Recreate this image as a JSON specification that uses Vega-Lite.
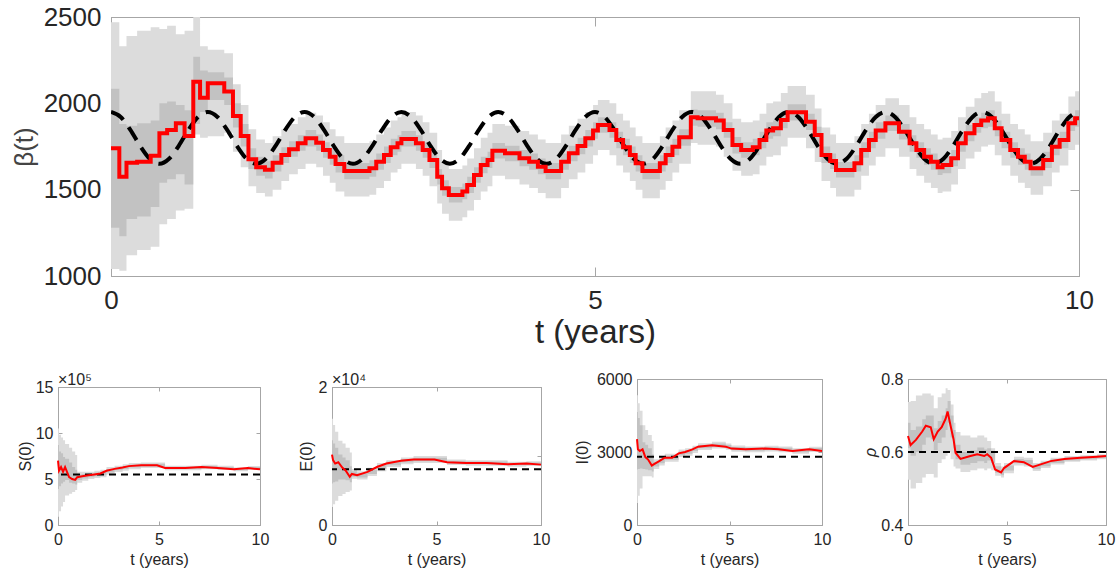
{
"$schema": "https://vega.github.io/schema/vega-lite/v6.json",
"background": "white",
"padding": {"left": 10, "top": 3, "right": 5, "bottom": 5},
"spacing": 20,
"config": {
  "font": "Liberation Sans",
  "view": {"stroke": "#a6a6a6", "strokeWidth": 1},
  "axis": {"grid": false, "domainColor": "#a6a6a6", "tickColor": "#a6a6a6", "labelColor": "#262626", "titleColor": "#262626", "titleFontWeight": "normal", "labelFlush": false, "labelOverlap": false, "labelFont": "Liberation Sans", "titleFont": "Liberation Sans"}
},
"datasets": {
"beta": [
{"t":0.0,"v":1740,"lo95":1040,"hi95":2470,"lo50":1280,"hi50":2085},
{"t":0.086,"v":1575,"lo95":1030,"hi95":2330,"lo50":1230,"hi50":1880},
{"t":0.16,"v":1656,"lo95":1120,"hi95":2390,"lo50":1330,"hi50":1870},
{"t":0.27,"v":1662,"lo95":1150,"hi95":2420,"lo50":1345,"hi50":1885},
{"t":0.41,"v":1697,"lo95":1170,"hi95":2440,"lo50":1400,"hi50":1900},
{"t":0.50,"v":1827,"lo95":1300,"hi95":2430,"lo50":1540,"hi50":2000},
{"t":0.58,"v":1846,"lo95":1330,"hi95":2450,"lo50":1560,"hi50":2010},
{"t":0.67,"v":1885,"lo95":1380,"hi95":2400,"lo50":1590,"hi50":1990},
{"t":0.76,"v":1811,"lo95":1390,"hi95":2420,"lo50":1530,"hi50":1960},
{"t":0.85,"v":2125,"lo95":1820,"hi95":2500,"lo50":1880,"hi50":2270},
{"t":0.92,"v":2033,"lo95":1800,"hi95":2330,"lo50":1950,"hi50":2190},
{"t":1.00,"v":2116,"lo95":1810,"hi95":2310,"lo50":2020,"hi50":2180},
{"t":1.17,"v":2068,"lo95":1830,"hi95":2290,"lo50":1990,"hi50":2150},
{"t":1.26,"v":1927,"lo95":1720,"hi95":2110,"lo50":1860,"hi50":2000},
{"t":1.34,"v":1811,"lo95":1630,"hi95":1990,"lo50":1750,"hi50":1880},
{"t":1.42,"v":1676,"lo95":1520,"hi95":1850,"lo50":1620,"hi50":1740},
{"t":1.50,"v":1630,"lo95":1480,"hi95":1790,"lo50":1580,"hi50":1690},
{"t":1.59,"v":1616,"lo95":1460,"hi95":1770,"lo50":1565,"hi50":1665},
{"t":1.67,"v":1656,"lo95":1500,"hi95":1810,"lo50":1605,"hi50":1700},
{"t":1.76,"v":1701,"lo95":1550,"hi95":1850,"lo50":1655,"hi50":1745},
{"t":1.84,"v":1734,"lo95":1590,"hi95":1880,"lo50":1690,"hi50":1780},
{"t":1.93,"v":1769,"lo95":1620,"hi95":1920,"lo50":1725,"hi50":1815},
{"t":2.01,"v":1798,"lo95":1650,"hi95":1945,"lo50":1750,"hi50":1845},
{"t":2.12,"v":1772,"lo95":1630,"hi95":1930,"lo50":1725,"hi50":1820},
{"t":2.19,"v":1730,"lo95":1580,"hi95":1890,"lo50":1685,"hi50":1775},
{"t":2.26,"v":1691,"lo95":1540,"hi95":1850,"lo50":1645,"hi50":1740},
{"t":2.32,"v":1649,"lo95":1490,"hi95":1810,"lo50":1600,"hi50":1700},
{"t":2.41,"v":1608,"lo95":1460,"hi95":1770,"lo50":1560,"hi50":1655},
{"t":2.67,"v":1624,"lo95":1470,"hi95":1780,"lo50":1575,"hi50":1670},
{"t":2.74,"v":1662,"lo95":1510,"hi95":1820,"lo50":1615,"hi50":1710},
{"t":2.82,"v":1701,"lo95":1550,"hi95":1860,"lo50":1655,"hi50":1750},
{"t":2.89,"v":1746,"lo95":1600,"hi95":1900,"lo50":1700,"hi50":1795},
{"t":2.96,"v":1769,"lo95":1620,"hi95":1920,"lo50":1720,"hi50":1815},
{"t":3.00,"v":1794,"lo95":1650,"hi95":1950,"lo50":1750,"hi50":1840},
{"t":3.15,"v":1769,"lo95":1620,"hi95":1930,"lo50":1725,"hi50":1815},
{"t":3.22,"v":1730,"lo95":1580,"hi95":1890,"lo50":1685,"hi50":1775},
{"t":3.29,"v":1672,"lo95":1520,"hi95":1830,"lo50":1625,"hi50":1720},
{"t":3.37,"v":1575,"lo95":1420,"hi95":1730,"lo50":1530,"hi50":1620},
{"t":3.42,"v":1508,"lo95":1360,"hi95":1660,"lo50":1465,"hi50":1555},
{"t":3.49,"v":1469,"lo95":1320,"hi95":1620,"lo50":1425,"hi50":1515},
{"t":3.63,"v":1489,"lo95":1340,"hi95":1640,"lo50":1445,"hi50":1535},
{"t":3.68,"v":1527,"lo95":1380,"hi95":1680,"lo50":1480,"hi50":1575},
{"t":3.75,"v":1585,"lo95":1440,"hi95":1740,"lo50":1540,"hi50":1630},
{"t":3.82,"v":1643,"lo95":1490,"hi95":1800,"lo50":1595,"hi50":1690},
{"t":3.89,"v":1672,"lo95":1520,"hi95":1830,"lo50":1625,"hi50":1720},
{"t":3.94,"v":1726,"lo95":1580,"hi95":1880,"lo50":1680,"hi50":1770},
{"t":4.07,"v":1711,"lo95":1560,"hi95":1870,"lo50":1665,"hi50":1755},
{"t":4.22,"v":1682,"lo95":1530,"hi95":1840,"lo50":1635,"hi50":1730},
{"t":4.32,"v":1662,"lo95":1510,"hi95":1820,"lo50":1615,"hi50":1710},
{"t":4.41,"v":1633,"lo95":1480,"hi95":1790,"lo50":1590,"hi50":1680},
{"t":4.49,"v":1608,"lo95":1450,"hi95":1770,"lo50":1560,"hi50":1655},
{"t":4.65,"v":1662,"lo95":1510,"hi95":1820,"lo50":1615,"hi50":1710},
{"t":4.73,"v":1711,"lo95":1560,"hi95":1870,"lo50":1665,"hi50":1755},
{"t":4.82,"v":1753,"lo95":1600,"hi95":1910,"lo50":1705,"hi50":1800},
{"t":4.90,"v":1798,"lo95":1650,"hi95":1950,"lo50":1750,"hi50":1845},
{"t":4.98,"v":1842,"lo95":1700,"hi95":1990,"lo50":1795,"hi50":1890},
{"t":5.03,"v":1875,"lo95":1730,"hi95":2020,"lo50":1830,"hi50":1920},
{"t":5.15,"v":1846,"lo95":1700,"hi95":2000,"lo50":1800,"hi50":1890},
{"t":5.22,"v":1788,"lo95":1640,"hi95":1940,"lo50":1740,"hi50":1835},
{"t":5.29,"v":1746,"lo95":1600,"hi95":1900,"lo50":1700,"hi50":1795},
{"t":5.36,"v":1701,"lo95":1550,"hi95":1860,"lo50":1655,"hi50":1750},
{"t":5.42,"v":1653,"lo95":1500,"hi95":1810,"lo50":1605,"hi50":1700},
{"t":5.49,"v":1608,"lo95":1450,"hi95":1770,"lo50":1560,"hi50":1655},
{"t":5.67,"v":1653,"lo95":1500,"hi95":1810,"lo50":1605,"hi50":1700},
{"t":5.73,"v":1701,"lo95":1550,"hi95":1860,"lo50":1655,"hi50":1750},
{"t":5.80,"v":1749,"lo95":1600,"hi95":1900,"lo50":1700,"hi50":1795},
{"t":5.87,"v":1803,"lo95":1650,"hi95":1960,"lo50":1755,"hi50":1850},
{"t":5.99,"v":1919,"lo95":1770,"hi95":2070,"lo50":1870,"hi50":1965},
{"t":6.06,"v":1913,"lo95":1760,"hi95":2070,"lo50":1865,"hi50":1960},
{"t":6.25,"v":1900,"lo95":1750,"hi95":2050,"lo50":1850,"hi50":1945},
{"t":6.33,"v":1846,"lo95":1690,"hi95":2000,"lo50":1800,"hi50":1890},
{"t":6.42,"v":1759,"lo95":1610,"hi95":1910,"lo50":1710,"hi50":1805},
{"t":6.51,"v":1730,"lo95":1580,"hi95":1890,"lo50":1685,"hi50":1775},
{"t":6.63,"v":1746,"lo95":1590,"hi95":1900,"lo50":1700,"hi50":1795},
{"t":6.70,"v":1788,"lo95":1640,"hi95":1940,"lo50":1740,"hi50":1835},
{"t":6.77,"v":1842,"lo95":1690,"hi95":2000,"lo50":1795,"hi50":1890},
{"t":6.84,"v":1856,"lo95":1700,"hi95":2010,"lo50":1810,"hi50":1900},
{"t":6.92,"v":1904,"lo95":1750,"hi95":2060,"lo50":1855,"hi50":1950},
{"t":6.99,"v":1948,"lo95":1800,"hi95":2100,"lo50":1900,"hi50":1995},
{"t":7.18,"v":1894,"lo95":1740,"hi95":2050,"lo50":1845,"hi50":1940},
{"t":7.27,"v":1817,"lo95":1660,"hi95":1970,"lo50":1770,"hi50":1865},
{"t":7.34,"v":1701,"lo95":1550,"hi95":1860,"lo50":1655,"hi50":1750},
{"t":7.43,"v":1666,"lo95":1510,"hi95":1820,"lo50":1620,"hi50":1710},
{"t":7.49,"v":1614,"lo95":1460,"hi95":1770,"lo50":1570,"hi50":1660},
{"t":7.68,"v":1653,"lo95":1500,"hi95":1810,"lo50":1605,"hi50":1700},
{"t":7.75,"v":1730,"lo95":1580,"hi95":1880,"lo50":1685,"hi50":1775},
{"t":7.83,"v":1788,"lo95":1640,"hi95":1940,"lo50":1740,"hi50":1835},
{"t":7.90,"v":1842,"lo95":1690,"hi95":1990,"lo50":1795,"hi50":1890},
{"t":8.00,"v":1885,"lo95":1740,"hi95":2030,"lo50":1840,"hi50":1930},
{"t":8.14,"v":1836,"lo95":1690,"hi95":1990,"lo50":1790,"hi50":1880},
{"t":8.25,"v":1769,"lo95":1620,"hi95":1920,"lo50":1720,"hi50":1815},
{"t":8.32,"v":1730,"lo95":1580,"hi95":1880,"lo50":1685,"hi50":1775},
{"t":8.40,"v":1691,"lo95":1540,"hi95":1850,"lo50":1645,"hi50":1740},
{"t":8.47,"v":1662,"lo95":1510,"hi95":1820,"lo50":1615,"hi50":1710},
{"t":8.54,"v":1630,"lo95":1480,"hi95":1790,"lo50":1585,"hi50":1675},
{"t":8.59,"v":1643,"lo95":1490,"hi95":1800,"lo50":1595,"hi50":1690},
{"t":8.68,"v":1682,"lo95":1530,"hi95":1840,"lo50":1635,"hi50":1730},
{"t":8.75,"v":1769,"lo95":1620,"hi95":1920,"lo50":1720,"hi50":1815},
{"t":8.83,"v":1827,"lo95":1680,"hi95":1980,"lo50":1780,"hi50":1875},
{"t":8.92,"v":1875,"lo95":1720,"hi95":2030,"lo50":1830,"hi50":1920},
{"t":8.99,"v":1900,"lo95":1750,"hi95":2060,"lo50":1855,"hi50":1945},
{"t":9.06,"v":1913,"lo95":1760,"hi95":2070,"lo50":1865,"hi50":1960},
{"t":9.13,"v":1856,"lo95":1700,"hi95":2010,"lo50":1810,"hi50":1900},
{"t":9.20,"v":1788,"lo95":1640,"hi95":1940,"lo50":1740,"hi50":1835},
{"t":9.29,"v":1730,"lo95":1580,"hi95":1880,"lo50":1685,"hi50":1775},
{"t":9.37,"v":1691,"lo95":1540,"hi95":1850,"lo50":1645,"hi50":1740},
{"t":9.44,"v":1662,"lo95":1510,"hi95":1820,"lo50":1615,"hi50":1710},
{"t":9.50,"v":1624,"lo95":1470,"hi95":1780,"lo50":1580,"hi50":1670},
{"t":9.63,"v":1672,"lo95":1520,"hi95":1830,"lo50":1625,"hi50":1720},
{"t":9.72,"v":1749,"lo95":1600,"hi95":1900,"lo50":1700,"hi50":1795},
{"t":9.80,"v":1788,"lo95":1640,"hi95":1940,"lo50":1740,"hi50":1835},
{"t":9.89,"v":1885,"lo95":1730,"hi95":2040,"lo50":1840,"hi50":1930},
{"t":9.96,"v":1913,"lo95":1760,"hi95":2070,"lo50":1865,"hi50":1960},
{"t":10.0,"v":1913,"lo95":1760,"hi95":2070,"lo50":1865,"hi50":1960}
],
"truth": [
{"t":0.0,"b":1950},{"t":0.1,"b":1921},{"t":0.2,"b":1846},{"t":0.3,"b":1754},{"t":0.4,"b":1679},{"t":0.5,"b":1650},{"t":0.6,"b":1679},{"t":0.7,"b":1754},{"t":0.8,"b":1846},{"t":0.9,"b":1921},
{"t":1.0,"b":1950},{"t":1.1,"b":1921},{"t":1.2,"b":1846},{"t":1.3,"b":1754},{"t":1.4,"b":1679},{"t":1.5,"b":1650},{"t":1.6,"b":1679},{"t":1.7,"b":1754},{"t":1.8,"b":1846},{"t":1.9,"b":1921},
{"t":2.0,"b":1950},{"t":2.1,"b":1921},{"t":2.2,"b":1846},{"t":2.3,"b":1754},{"t":2.4,"b":1679},{"t":2.5,"b":1650},{"t":2.6,"b":1679},{"t":2.7,"b":1754},{"t":2.8,"b":1846},{"t":2.9,"b":1921},
{"t":3.0,"b":1950},{"t":3.1,"b":1921},{"t":3.2,"b":1846},{"t":3.3,"b":1754},{"t":3.4,"b":1679},{"t":3.5,"b":1650},{"t":3.6,"b":1679},{"t":3.7,"b":1754},{"t":3.8,"b":1846},{"t":3.9,"b":1921},
{"t":4.0,"b":1950},{"t":4.1,"b":1921},{"t":4.2,"b":1846},{"t":4.3,"b":1754},{"t":4.4,"b":1679},{"t":4.5,"b":1650},{"t":4.6,"b":1679},{"t":4.7,"b":1754},{"t":4.8,"b":1846},{"t":4.9,"b":1921},
{"t":5.0,"b":1950},{"t":5.1,"b":1921},{"t":5.2,"b":1846},{"t":5.3,"b":1754},{"t":5.4,"b":1679},{"t":5.5,"b":1650},{"t":5.6,"b":1679},{"t":5.7,"b":1754},{"t":5.8,"b":1846},{"t":5.9,"b":1921},
{"t":6.0,"b":1950},{"t":6.1,"b":1921},{"t":6.2,"b":1846},{"t":6.3,"b":1754},{"t":6.4,"b":1679},{"t":6.5,"b":1650},{"t":6.6,"b":1679},{"t":6.7,"b":1754},{"t":6.8,"b":1846},{"t":6.9,"b":1921},
{"t":7.0,"b":1950},{"t":7.1,"b":1921},{"t":7.2,"b":1846},{"t":7.3,"b":1754},{"t":7.4,"b":1679},{"t":7.5,"b":1650},{"t":7.6,"b":1679},{"t":7.7,"b":1754},{"t":7.8,"b":1846},{"t":7.9,"b":1921},
{"t":8.0,"b":1950},{"t":8.1,"b":1921},{"t":8.2,"b":1846},{"t":8.3,"b":1754},{"t":8.4,"b":1679},{"t":8.5,"b":1650},{"t":8.6,"b":1679},{"t":8.7,"b":1754},{"t":8.8,"b":1846},{"t":8.9,"b":1921},
{"t":9.0,"b":1950},{"t":9.1,"b":1921},{"t":9.2,"b":1846},{"t":9.3,"b":1754},{"t":9.4,"b":1679},{"t":9.5,"b":1650},{"t":9.6,"b":1679},{"t":9.7,"b":1754},{"t":9.8,"b":1846},{"t":9.9,"b":1921},
{"t":10.0,"b":1950}
],
"S": [
{"t":0.0,"v":7.0,"lo95":0.9,"hi95":10.5,"lo50":3.9,"hi50":8.7},
{"t":0.05,"v":5.9,"lo95":1.5,"hi95":9.8,"lo50":4.2,"hi50":8.0},
{"t":0.15,"v":6.3,"lo95":2.0,"hi95":9.5,"lo50":4.5,"hi50":7.8},
{"t":0.25,"v":5.8,"lo95":2.5,"hi95":9.2,"lo50":4.7,"hi50":7.4},
{"t":0.35,"v":6.3,"lo95":3.2,"hi95":8.8,"lo50":4.9,"hi50":7.2},
{"t":0.55,"v":5.2,"lo95":3.4,"hi95":8.4,"lo50":4.6,"hi50":6.8},
{"t":0.70,"v":5.0,"lo95":3.6,"hi95":8.0,"lo50":4.5,"hi50":6.3},
{"t":0.85,"v":4.9,"lo95":3.8,"hi95":7.6,"lo50":4.4,"hi50":6.0},
{"t":0.95,"v":5.2,"lo95":4.6,"hi95":5.8,"lo50":4.9,"hi50":5.5},
{"t":1.2,"v":5.3,"lo95":4.8,"hi95":5.8,"lo50":5.05,"hi50":5.55},
{"t":1.5,"v":5.4,"lo95":5.0,"hi95":5.8,"lo50":5.2,"hi50":5.6},
{"t":1.8,"v":5.5,"lo95":5.1,"hi95":5.9,"lo50":5.3,"hi50":5.7},
{"t":2.1,"v":5.6,"lo95":5.2,"hi95":6.0,"lo50":5.4,"hi50":5.8},
{"t":2.4,"v":5.9,"lo95":5.5,"hi95":6.3,"lo50":5.7,"hi50":6.1},
{"t":2.8,"v":6.1,"lo95":5.75,"hi95":6.45,"lo50":5.95,"hi50":6.25},
{"t":3.2,"v":6.25,"lo95":5.9,"hi95":6.6,"lo50":6.1,"hi50":6.4},
{"t":3.5,"v":6.4,"lo95":6.05,"hi95":6.75,"lo50":6.25,"hi50":6.55},
{"t":4.1,"v":6.5,"lo95":6.2,"hi95":6.8,"lo50":6.35,"hi50":6.65},
{"t":4.9,"v":6.5,"lo95":6.2,"hi95":6.8,"lo50":6.35,"hi50":6.65},
{"t":5.3,"v":6.2,"lo95":5.95,"hi95":6.45,"lo50":6.08,"hi50":6.32},
{"t":6.3,"v":6.2,"lo95":5.95,"hi95":6.45,"lo50":6.08,"hi50":6.32},
{"t":7.1,"v":6.3,"lo95":6.05,"hi95":6.55,"lo50":6.18,"hi50":6.42},
{"t":7.9,"v":6.2,"lo95":5.97,"hi95":6.43,"lo50":6.1,"hi50":6.3},
{"t":8.7,"v":6.05,"lo95":5.85,"hi95":6.25,"lo50":5.95,"hi50":6.15},
{"t":9.4,"v":6.2,"lo95":6.0,"hi95":6.4,"lo50":6.1,"hi50":6.3},
{"t":10.0,"v":6.05,"lo95":5.85,"hi95":6.25,"lo50":5.95,"hi50":6.15}
],
"E": [
{"t":0.0,"v":1.02,"lo95":0.26,"hi95":1.54,"lo50":0.6,"hi50":1.23},
{"t":0.05,"v":0.94,"lo95":0.3,"hi95":1.45,"lo50":0.62,"hi50":1.18},
{"t":0.15,"v":0.89,"lo95":0.35,"hi95":1.35,"lo50":0.63,"hi50":1.12},
{"t":0.3,"v":0.91,"lo95":0.42,"hi95":1.22,"lo50":0.66,"hi50":1.02},
{"t":0.5,"v":0.83,"lo95":0.45,"hi95":1.18,"lo50":0.66,"hi50":0.98},
{"t":0.65,"v":0.79,"lo95":0.48,"hi95":1.12,"lo50":0.65,"hi50":0.94},
{"t":0.85,"v":0.70,"lo95":0.5,"hi95":1.05,"lo50":0.62,"hi50":0.85},
{"t":0.95,"v":0.74,"lo95":0.67,"hi95":0.81,"lo50":0.70,"hi50":0.78},
{"t":1.2,"v":0.72,"lo95":0.66,"hi95":0.78,"lo50":0.69,"hi50":0.75},
{"t":1.7,"v":0.77,"lo95":0.71,"hi95":0.83,"lo50":0.74,"hi50":0.80},
{"t":2.15,"v":0.84,"lo95":0.78,"hi95":0.90,"lo50":0.81,"hi50":0.87},
{"t":2.6,"v":0.89,"lo95":0.84,"hi95":0.94,"lo50":0.865,"hi50":0.915},
{"t":3.3,"v":0.93,"lo95":0.88,"hi95":0.98,"lo50":0.905,"hi50":0.955},
{"t":3.9,"v":0.95,"lo95":0.9,"hi95":1.0,"lo50":0.925,"hi50":0.975},
{"t":4.9,"v":0.95,"lo95":0.9,"hi95":1.0,"lo50":0.925,"hi50":0.975},
{"t":5.5,"v":0.91,"lo95":0.87,"hi95":0.95,"lo50":0.89,"hi50":0.93},
{"t":6.4,"v":0.90,"lo95":0.86,"hi95":0.94,"lo50":0.88,"hi50":0.92},
{"t":7.4,"v":0.90,"lo95":0.86,"hi95":0.94,"lo50":0.88,"hi50":0.92},
{"t":8.4,"v":0.88,"lo95":0.845,"hi95":0.915,"lo50":0.865,"hi50":0.895},
{"t":9.3,"v":0.89,"lo95":0.855,"hi95":0.925,"lo50":0.873,"hi50":0.907},
{"t":10.0,"v":0.875,"lo95":0.84,"hi95":0.91,"lo50":0.86,"hi50":0.89}
],
"I": [
{"t":0.0,"v":3530,"lo95":900,"hi95":5330,"lo50":2280,"hi50":4640},
{"t":0.05,"v":3110,"lo95":1200,"hi95":5000,"lo50":2300,"hi50":4400},
{"t":0.15,"v":3040,"lo95":1500,"hi95":4700,"lo50":2320,"hi50":4100},
{"t":0.3,"v":3110,"lo95":2000,"hi95":4100,"lo50":2300,"hi50":3400},
{"t":0.45,"v":2790,"lo95":2000,"hi95":3900,"lo50":2280,"hi50":3300},
{"t":0.6,"v":2690,"lo95":2000,"hi95":3700,"lo50":2250,"hi50":3150},
{"t":0.8,"v":2440,"lo95":1950,"hi95":3450,"lo50":2200,"hi50":2900},
{"t":0.9,"v":2490,"lo95":2300,"hi95":2700,"lo50":2400,"hi50":2600},
{"t":1.2,"v":2625,"lo95":2450,"hi95":2800,"lo50":2540,"hi50":2710},
{"t":1.5,"v":2765,"lo95":2600,"hi95":2930,"lo50":2680,"hi50":2850},
{"t":1.9,"v":2765,"lo95":2600,"hi95":2930,"lo50":2680,"hi50":2850},
{"t":2.25,"v":2945,"lo95":2790,"hi95":3100,"lo50":2870,"hi50":3020},
{"t":2.6,"v":3000,"lo95":2850,"hi95":3150,"lo50":2930,"hi50":3070},
{"t":3.0,"v":3110,"lo95":2960,"hi95":3260,"lo50":3040,"hi50":3180},
{"t":3.3,"v":3220,"lo95":3080,"hi95":3360,"lo50":3150,"hi50":3290},
{"t":4.05,"v":3280,"lo95":3140,"hi95":3420,"lo50":3210,"hi50":3350},
{"t":4.8,"v":3220,"lo95":3090,"hi95":3350,"lo50":3155,"hi50":3285},
{"t":5.1,"v":3140,"lo95":3010,"hi95":3270,"lo50":3075,"hi50":3205},
{"t":5.85,"v":3110,"lo95":2990,"hi95":3230,"lo50":3050,"hi50":3170},
{"t":6.9,"v":3140,"lo95":3020,"hi95":3260,"lo50":3080,"hi50":3200},
{"t":7.65,"v":3110,"lo95":2990,"hi95":3230,"lo50":3050,"hi50":3170},
{"t":8.4,"v":3040,"lo95":2930,"hi95":3150,"lo50":2985,"hi50":3095},
{"t":9.3,"v":3110,"lo95":3000,"hi95":3220,"lo50":3055,"hi50":3165},
{"t":10.0,"v":3040,"lo95":2930,"hi95":3150,"lo50":2985,"hi50":3095}
],
"R": [
{"t":0.0,"v":0.644,"lo95":0.524,"hi95":0.737,"lo50":0.61,"hi50":0.68},
{"t":0.13,"v":0.619,"lo95":0.50,"hi95":0.74,"lo50":0.59,"hi50":0.66},
{"t":0.4,"v":0.633,"lo95":0.515,"hi95":0.755,"lo50":0.60,"hi50":0.67},
{"t":0.72,"v":0.656,"lo95":0.53,"hi95":0.76,"lo50":0.62,"hi50":0.69},
{"t":0.9,"v":0.672,"lo95":0.54,"hi95":0.76,"lo50":0.64,"hi50":0.70},
{"t":1.15,"v":0.668,"lo95":0.54,"hi95":0.755,"lo50":0.635,"hi50":0.70},
{"t":1.3,"v":0.635,"lo95":0.53,"hi95":0.72,"lo50":0.605,"hi50":0.665},
{"t":1.5,"v":0.656,"lo95":0.57,"hi95":0.75,"lo50":0.625,"hi50":0.685},
{"t":1.7,"v":0.668,"lo95":0.58,"hi95":0.76,"lo50":0.64,"hi50":0.70},
{"t":1.9,"v":0.691,"lo95":0.59,"hi95":0.775,"lo50":0.66,"hi50":0.72},
{"t":2.0,"v":0.711,"lo95":0.60,"hi95":0.77,"lo50":0.68,"hi50":0.74},
{"t":2.15,"v":0.672,"lo95":0.58,"hi95":0.73,"lo50":0.64,"hi50":0.70},
{"t":2.3,"v":0.635,"lo95":0.56,"hi95":0.68,"lo50":0.61,"hi50":0.66},
{"t":2.4,"v":0.598,"lo95":0.555,"hi95":0.655,"lo50":0.58,"hi50":0.62},
{"t":2.65,"v":0.581,"lo95":0.545,"hi95":0.645,"lo50":0.565,"hi50":0.60},
{"t":3.15,"v":0.589,"lo95":0.55,"hi95":0.64,"lo50":0.57,"hi50":0.605},
{"t":3.5,"v":0.594,"lo95":0.555,"hi95":0.645,"lo50":0.575,"hi50":0.612},
{"t":3.85,"v":0.589,"lo95":0.55,"hi95":0.64,"lo50":0.57,"hi50":0.607},
{"t":4.0,"v":0.594,"lo95":0.555,"hi95":0.63,"lo50":0.577,"hi50":0.61},
{"t":4.2,"v":0.584,"lo95":0.55,"hi95":0.61,"lo50":0.57,"hi50":0.598},
{"t":4.4,"v":0.552,"lo95":0.535,"hi95":0.57,"lo50":0.543,"hi50":0.561},
{"t":4.7,"v":0.544,"lo95":0.53,"hi95":0.56,"lo50":0.536,"hi50":0.552},
{"t":4.85,"v":0.556,"lo95":0.542,"hi95":0.57,"lo50":0.549,"hi50":0.563},
{"t":5.35,"v":0.575,"lo95":0.563,"hi95":0.587,"lo50":0.569,"hi50":0.581},
{"t":5.85,"v":0.572,"lo95":0.56,"hi95":0.584,"lo50":0.566,"hi50":0.578},
{"t":6.3,"v":0.559,"lo95":0.548,"hi95":0.57,"lo50":0.553,"hi50":0.565},
{"t":6.7,"v":0.566,"lo95":0.556,"hi95":0.576,"lo50":0.561,"hi50":0.571},
{"t":7.2,"v":0.575,"lo95":0.566,"hi95":0.584,"lo50":0.57,"hi50":0.58},
{"t":7.9,"v":0.581,"lo95":0.573,"hi95":0.589,"lo50":0.577,"hi50":0.585},
{"t":8.7,"v":0.584,"lo95":0.577,"hi95":0.591,"lo50":0.58,"hi50":0.588},
{"t":9.55,"v":0.587,"lo95":0.58,"hi95":0.594,"lo50":0.583,"hi50":0.591},
{"t":10.0,"v":0.589,"lo95":0.582,"hi95":0.596,"lo50":0.585,"hi50":0.593}
]
},
"vconcat": [
 {
  "bounds": "flush",
  "spacing": 0,
  "hconcat": [
   {"width": 53, "height": 259, "data": {"values": []}, "mark": {"type": "rule", "opacity": 0}, "encoding": {}, "view": {"stroke": null}},
   {
   "width": 968, "height": 259,
   "data": {"name": "beta"},
   "resolve": {"axis": {"x": "independent", "y": "independent"}},
   "layer": [
    {"mark": {"type": "area", "interpolate": "step-after", "color": "#dcdcdc", "clip": true},
     "encoding": {
      "x": {"field": "t", "type": "quantitative", "scale": {"domain": [0, 10], "nice": false, "zero": false},
            "axis": {"orient": "bottom", "values": [0, 5, 10], "tickSize": -9, "labelFontSize": 26, "labelPadding": 20, "title": "t (years)", "titleFontSize": 33, "titlePadding": 3}},
      "y": {"field": "lo95", "type": "quantitative", "scale": {"domain": [1000, 2500], "nice": false, "zero": false},
            "axis": {"orient": "left", "values": [1000, 1500, 2000, 2500], "format": "d", "tickSize": -9, "labelFontSize": 26, "labelPadding": 19, "title": "β(t)", "titleFontSize": 26, "titleColor": "#444444", "titlePadding": 6}},
      "y2": {"field": "hi95"}
     }},
    {"mark": {"type": "area", "interpolate": "step-after", "color": "#c2c2c2", "clip": true},
     "encoding": {
      "x": {"field": "t", "type": "quantitative", "axis": {"orient": "top", "values": [0, 5, 10], "tickSize": -9, "labels": false, "title": null}},
      "y": {"field": "lo50", "type": "quantitative", "axis": {"orient": "right", "values": [1000, 1500, 2000, 2500], "tickSize": -9, "labels": false, "title": null}},
      "y2": {"field": "hi50"}
     }},
    {"data": {"name": "truth"},
     "mark": {"type": "line", "interpolate": "monotone", "color": "#000000", "strokeWidth": 4, "strokeDash": [15, 9], "clip": true},
     "encoding": {
      "x": {"field": "t", "type": "quantitative", "axis": null},
      "y": {"field": "b", "type": "quantitative", "axis": null}
     }},
    {"mark": {"type": "line", "interpolate": "step-after", "color": "#ff0000", "strokeWidth": 4, "clip": true},
     "encoding": {
      "x": {"field": "t", "type": "quantitative", "axis": null},
      "y": {"field": "v", "type": "quantitative", "axis": null}
     }}
   ]
   }
  ]
 },
 {
  "spacing": 22,
  "hconcat": [
   {
    "bounds": "flush",
    "spacing": 0,
    "vconcat": [
     {"width": 202, "height": 8, "data": {"values": []}, "mark": {"type": "rule", "opacity": 0}, "encoding": {}, "view": {"stroke": null}},
     {
     "spacing": 27,
     "hconcat": [
      {
       "width": 202, "height": 138,
       "title": {"text": "×10⁵", "anchor": "start", "frame": "group", "fontSize": 16, "fontWeight": "normal", "color": "#262626", "offset": -9},
       "data": {"name": "S"},
       "resolve": {"axis": {"x": "independent", "y": "independent"}},
       "layer": [
        {"mark": {"type": "area", "interpolate": "step-after", "color": "#dcdcdc"},
         "encoding": {
          "x": {"field": "t", "type": "quantitative", "scale": {"domain": [0, 10], "nice": false}, "axis": {"orient": "bottom", "values": [0, 5, 10], "tickSize": -4, "labelFontSize": 16, "labelPadding": 10, "title": "t (years)", "titleFontSize": 16, "titlePadding": 4}},
          "y": {"field": "lo95", "type": "quantitative", "scale": {"domain": [0, 15], "nice": false}, "axis": {"orient": "left", "values": [0, 5, 10, 15], "tickSize": -4, "labelFontSize": 16, "labelPadding": 9, "title": "S(0)", "titleFontSize": 16, "titlePadding": 2}},
          "y2": {"field": "hi95"}
         }},
        {"mark": {"type": "area", "interpolate": "step-after", "color": "#c2c2c2"},
         "encoding": {
          "x": {"field": "t", "type": "quantitative", "axis": {"orient": "top", "values": [0, 5, 10], "tickSize": -4, "labels": false, "title": null}},
          "y": {"field": "lo50", "type": "quantitative", "axis": {"orient": "right", "values": [0, 5, 10, 15], "tickSize": -4, "labels": false, "title": null}},
          "y2": {"field": "hi50"}
         }},
        {"data": {"values": [{}]}, "mark": {"type": "rule", "color": "#000000", "strokeWidth": 2, "strokeDash": [7, 5]},
         "encoding": {"y": {"datum": 5.5, "type": "quantitative", "axis": null}}},
        {"mark": {"type": "line", "color": "#ff0000", "strokeWidth": 2},
         "encoding": {"x": {"field": "t", "type": "quantitative", "axis": null}, "y": {"field": "v", "type": "quantitative", "axis": null}}}
       ]
      },
      {
       "width": 209, "height": 138,
       "title": {"text": "×10⁴", "anchor": "start", "frame": "group", "fontSize": 16, "fontWeight": "normal", "color": "#262626", "offset": -9},
       "data": {"name": "E"},
       "resolve": {"axis": {"x": "independent", "y": "independent"}},
       "layer": [
        {"mark": {"type": "area", "interpolate": "step-after", "color": "#dcdcdc"},
         "encoding": {
          "x": {"field": "t", "type": "quantitative", "scale": {"domain": [0, 10], "nice": false}, "axis": {"orient": "bottom", "values": [0, 5, 10], "tickSize": -4, "labelFontSize": 16, "labelPadding": 10, "title": "t (years)", "titleFontSize": 16, "titlePadding": 4}},
          "y": {"field": "lo95", "type": "quantitative", "scale": {"domain": [0, 2], "nice": false}, "axis": {"orient": "left", "values": [0, 1, 2], "format": "d", "tickSize": -4, "labelFontSize": 16, "labelPadding": 9, "title": "E(0)", "titleFontSize": 16, "titlePadding": 4}},
          "y2": {"field": "hi95"}
         }},
        {"mark": {"type": "area", "interpolate": "step-after", "color": "#c2c2c2"},
         "encoding": {
          "x": {"field": "t", "type": "quantitative", "axis": {"orient": "top", "values": [0, 5, 10], "tickSize": -4, "labels": false, "title": null}},
          "y": {"field": "lo50", "type": "quantitative", "axis": {"orient": "right", "values": [0, 1, 2], "tickSize": -4, "labels": false, "title": null}},
          "y2": {"field": "hi50"}
         }},
        {"data": {"values": [{}]}, "mark": {"type": "rule", "color": "#000000", "strokeWidth": 2, "strokeDash": [7, 5]},
         "encoding": {"y": {"datum": 0.807, "type": "quantitative", "axis": null}}},
        {"mark": {"type": "line", "color": "#ff0000", "strokeWidth": 2},
         "encoding": {"x": {"field": "t", "type": "quantitative", "axis": null}, "y": {"field": "v", "type": "quantitative", "axis": null}}}
       ]
      }
     ]
     }
    ]
   },
   {
    "spacing": 30,
    "hconcat": [
     {
      "width": 185, "height": 146,
      "data": {"name": "I"},
      "resolve": {"axis": {"x": "independent", "y": "independent"}},
      "layer": [
       {"mark": {"type": "area", "interpolate": "step-after", "color": "#dcdcdc"},
        "encoding": {
         "x": {"field": "t", "type": "quantitative", "scale": {"domain": [0, 10], "nice": false}, "axis": {"orient": "bottom", "values": [0, 5, 10], "tickSize": -4, "labelFontSize": 16, "labelPadding": 10, "title": "t (years)", "titleFontSize": 16, "titlePadding": 4}},
         "y": {"field": "lo95", "type": "quantitative", "scale": {"domain": [0, 6000], "nice": false}, "axis": {"orient": "left", "values": [0, 3000, 6000], "format": "d", "tickSize": -4, "labelFontSize": 16, "labelPadding": 9, "title": "I(0)", "titleFontSize": 16, "titlePadding": 6}},
         "y2": {"field": "hi95"}
        }},
       {"mark": {"type": "area", "interpolate": "step-after", "color": "#c2c2c2"},
        "encoding": {
         "x": {"field": "t", "type": "quantitative", "axis": {"orient": "top", "values": [0, 5, 10], "tickSize": -4, "labels": false, "title": null}},
         "y": {"field": "lo50", "type": "quantitative", "axis": {"orient": "right", "values": [0, 3000, 6000], "tickSize": -4, "labels": false, "title": null}},
         "y2": {"field": "hi50"}
        }},
       {"data": {"values": [{}]}, "mark": {"type": "rule", "color": "#000000", "strokeWidth": 2, "strokeDash": [7, 5]},
        "encoding": {"y": {"datum": 2800, "type": "quantitative", "axis": null}}},
       {"mark": {"type": "line", "color": "#ff0000", "strokeWidth": 2},
        "encoding": {"x": {"field": "t", "type": "quantitative", "axis": null}, "y": {"field": "v", "type": "quantitative", "axis": null}}}
      ]
     },
     {
      "width": 198, "height": 146,
      "data": {"name": "R"},
      "resolve": {"axis": {"x": "independent", "y": "independent"}},
      "layer": [
       {"mark": {"type": "area", "interpolate": "step-after", "color": "#dcdcdc"},
        "encoding": {
         "x": {"field": "t", "type": "quantitative", "scale": {"domain": [0, 10], "nice": false}, "axis": {"orient": "bottom", "values": [0, 5, 10], "tickSize": -4, "labelFontSize": 16, "labelPadding": 10, "title": "t (years)", "titleFontSize": 16, "titlePadding": 4}},
         "y": {"field": "lo95", "type": "quantitative", "scale": {"domain": [0.4, 0.8], "nice": false, "zero": false}, "axis": {"orient": "left", "values": [0.4, 0.6, 0.8], "format": ".1f", "tickSize": -4, "labelFontSize": 16, "labelPadding": 9, "title": "ρ", "titleFontStyle": "italic", "titleFontSize": 16, "titlePadding": 2}},
         "y2": {"field": "hi95"}
        }},
       {"mark": {"type": "area", "interpolate": "step-after", "color": "#c2c2c2"},
        "encoding": {
         "x": {"field": "t", "type": "quantitative", "axis": {"orient": "top", "values": [0, 5, 10], "tickSize": -4, "labels": false, "title": null}},
         "y": {"field": "lo50", "type": "quantitative", "axis": {"orient": "right", "values": [0.4, 0.6, 0.8], "tickSize": -4, "labels": false, "title": null}},
         "y2": {"field": "hi50"}
        }},
       {"data": {"values": [{}]}, "mark": {"type": "rule", "color": "#000000", "strokeWidth": 2, "strokeDash": [7, 5]},
        "encoding": {"y": {"datum": 0.6, "type": "quantitative", "axis": null}}},
       {"mark": {"type": "line", "color": "#ff0000", "strokeWidth": 2},
        "encoding": {"x": {"field": "t", "type": "quantitative", "axis": null}, "y": {"field": "v", "type": "quantitative", "axis": null}}}
      ]
     }
    ]
   }
  ]
 }
]
}
